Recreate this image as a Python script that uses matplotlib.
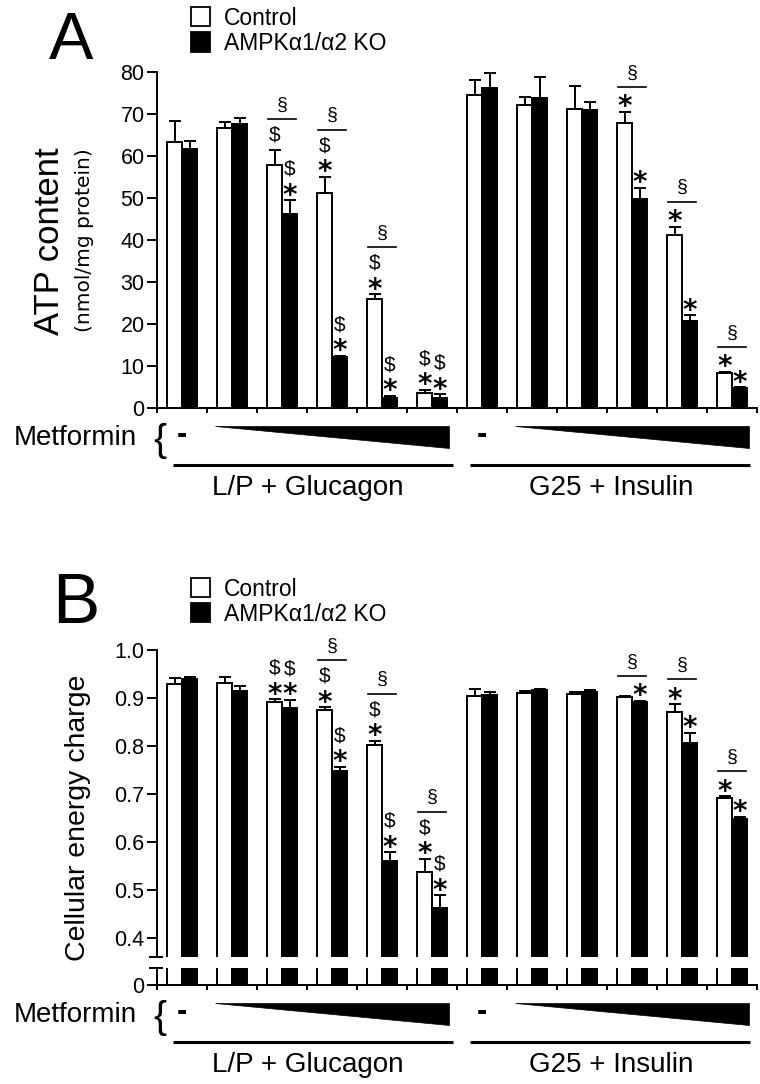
import matplotlib
matplotlib.use('Agg')
import matplotlib.pyplot as plt
from matplotlib.patches import Rectangle, Polygon
from matplotlib.transforms import offset_copy
import numpy as np

plt.rcParams['font.family'] = ['Liberation Sans', 'DejaVu Sans']

# ---- data ----
groups = np.arange(12)

# A: ATP content (nmol/mg protein)
atp_ctrl = [63.3, 66.6, 57.9, 51.3, 25.9, 3.5, 74.5, 72.1, 71.3, 67.8, 41.3, 8.3]
atp_ctrl_err = [5.1, 1.4, 3.5, 3.8, 1.2, 0.8, 3.6, 1.9, 5.4, 2.7, 1.9, 0.3]
atp_ko = [61.7, 67.6, 46.1, 12.1, 2.5, 2.5, 76.1, 73.8, 71.0, 49.7, 20.8, 4.7]
atp_ko_err = [1.9, 1.4, 3.4, 0.3, 0.4, 0.8, 3.6, 4.9, 1.9, 2.8, 1.3, 0.3]
atp_ctrl_marks = ['', '', '$', '*$', '*$', '*$', '', '', '', '*', '*', '*']
atp_ko_marks = ['', '', '*$', '*$', '*$', '*$', '', '', '', '*', '*', '*']
atp_sect = [2, 3, 4, 9, 10, 11]

# B: cellular energy charge
ec_ctrl = [0.929, 0.932, 0.891, 0.874, 0.802, 0.538, 0.905, 0.911, 0.909, 0.902, 0.870, 0.692]
ec_ctrl_err = [0.012, 0.012, 0.007, 0.007, 0.009, 0.027, 0.013, 0.003, 0.003, 0.003, 0.017, 0.003]
ec_ko = [0.939, 0.915, 0.880, 0.747, 0.560, 0.462, 0.906, 0.917, 0.913, 0.891, 0.807, 0.647]
ec_ko_err = [0.005, 0.009, 0.016, 0.010, 0.019, 0.027, 0.007, 0.002, 0.003, 0.003, 0.021, 0.006]
ec_ctrl_marks = ['', '', '*$', '*$', '*$', '*$', '', '', '', '', '*', '*']
ec_ko_marks = ['', '', '*$', '*$', '*$', '*$', '', '', '', '*', '*', '*']
ec_sect = [3, 4, 5, 9, 10, 11]

legend_labels = ['Control', 'AMPK\u03b11/\u03b12 KO']
conditions = ['L/P + Glucagon', 'G25 + Insulin']

W, H = 760, 1084
fig = plt.figure(figsize=(W / 100, H / 100), dpi=100)


def fx(px):
    return px / W


def fy(py):
    return 1 - py / H


bw = 0.3
LW = 1.4


def style_axis(ax):
    ax.spines['top'].set_visible(False)
    ax.spines['right'].set_visible(False)
    for s in ('left', 'bottom'):
        ax.spines[s].set_linewidth(LW)
    ax.set_xlim(-0.5, 11.5)
    ax.tick_params(axis='y', direction='out', length=7, width=LW, labelsize=15.5, pad=2)
    ax.tick_params(axis='x', direction='out', length=3.8, width=LW, labelbottom=False)
    ax.set_xticks(np.arange(-0.5, 12, 1.0))


def draw_bars(ax, ctrl, ctrl_err, ko, ko_err, err=True):
    ax.bar(groups - bw / 2, ctrl, bw, color='white', edgecolor='black', linewidth=LW, zorder=2)
    ax.bar(groups + bw / 2, ko, bw, color='black', edgecolor='black', linewidth=LW, zorder=2)
    if err:
        for off, m, e in ((-bw / 2, ctrl, ctrl_err), (bw / 2, ko, ko_err)):
            ax.errorbar(groups + off, m, yerr=[np.zeros(12), e], fmt='none', ecolor='black',
                        elinewidth=LW, capsize=4, capthick=LW, zorder=3)


STAR_FS = 20
STAR_EM = STAR_FS * 100 / 72
stack_h = {'': 0, '*': 17, '$': 23, '*$': 39}


def draw_marks(ax, ctrl, ctrl_err, ko, ko_err, cmarks, kmarks, sect):
    tops = {}
    for off, m, e, marks in ((-bw / 2, ctrl, ctrl_err, cmarks), (bw / 2, ko, ko_err, kmarks)):
        for g in groups:
            x = g + off
            top = m[g] + e[g]
            mk = marks[g]
            tops[(g, off)] = ax.transData.transform((x, top))[1] + stack_h[mk]
            if '*' in mk:
                tr = offset_copy(ax.transData, fig=fig, x=0, y=12 - 0.56 * STAR_EM, units='dots')
                ax.text(x, top, '*', transform=tr, ha='center', va='baseline',
                        fontsize=STAR_FS, fontweight='bold', family='DejaVu Sans')
            if '$' in mk:
                dy = 31 if '*' in mk else 15
                tr = offset_copy(ax.transData, fig=fig, x=0, y=dy, units='dots')
                ax.text(x, top, '$', transform=tr, ha='center', va='center', fontsize=15)
    inv = ax.transData.inverted()
    for g in sect:
        ypix = max(tops[(g, -bw / 2)], tops[(g, bw / 2)]) + 8
        xpix = ax.transData.transform((g, 0))[0]
        yline = inv.transform((xpix, ypix))[1]
        ax.plot([g - 0.28, g + 0.28], [yline, yline], color='black', lw=1.2, clip_on=False)
        tr = offset_copy(ax.transData, fig=fig, x=0, y=14, units='dots')
        ax.text(g, yline, '\u00a7', transform=tr, ha='center', va='center', fontsize=14)


def draw_bottom(axis_py):
    axb = fig.add_axes([fx(157), fy(axis_py + 95), 600 / W, 95 / H])
    axb.set_xlim(-0.5, 11.5)
    axb.set_ylim(-95, 0)
    axb.axis('off')
    axb.text(-0.9, -30, 'Metformin', ha='right', va='center', fontsize=20)
    axb.text(-0.44, -33, '{', ha='center', va='center', fontsize=28)
    for start, (l0, l1), lab_x, lab in ((0, (-0.18, 5.42), 2.52, conditions[0]),
                                        (6, (5.76, 11.36), 8.58, conditions[1])):
        axb.text(start, -27, '-', ha='center', va='center', fontsize=22, fontweight='bold')
        axb.add_patch(Polygon([(start + 0.66, -18), (start + 5.34, -18), (start + 5.34, -40)],
                              closed=True, facecolor='black', edgecolor='black', lw=0.5))
        axb.plot([l0, l1], [-57, -57], color='black', lw=2.2, solid_capstyle='butt')
        axb.text(lab_x, -80, lab, ha='center', va='center', fontsize=20)


def draw_legend(y1, y2):
    for yc, fc, lab in ((y1, 'white', legend_labels[0]), (y2, 'black', legend_labels[1])):
        fig.patches.append(Rectangle((fx(191), fy(yc + 9.5)), 19 / W, 19 / H, transform=fig.transFigure,
                                     facecolor=fc, edgecolor='black', lw=1.3))
        fig.text(fx(224), fy(yc + 2), lab, ha='left', va='center', fontsize=16.5)


# ---------------- Panel A ----------------
axA = fig.add_axes([fx(157), fy(408), 600 / W, (408 - 72) / H])
style_axis(axA)
axA.set_ylim(0, 80)
axA.set_yticks(range(0, 81, 10))
draw_bars(axA, atp_ctrl, atp_ctrl_err, atp_ko, atp_ko_err)
draw_marks(axA, atp_ctrl, atp_ctrl_err, atp_ko, atp_ko_err, atp_ctrl_marks, atp_ko_marks, atp_sect)
draw_bottom(408)
draw_legend(16.5, 42)
fig.text(fx(49), fy(59), 'A', fontsize=48, ha='left', va='baseline')
fig.text(fx(50), fy(241), 'ATP content', rotation=90, ha='center', va='center', fontsize=25)
fig.text(fx(85), fy(240), '(nmol/mg protein)', rotation=90, ha='center', va='center',
         fontsize=14.5, family='DejaVu Sans')

# ---------------- Panel B ----------------
B_TOP, B_BRK1, B_BRK2, B_AX = 650, 957, 968, 985
ppu = (938 - 650) / 0.6
axB = fig.add_axes([fx(157), fy(B_BRK1), 600 / W, (B_BRK1 - B_TOP) / H])
style_axis(axB)
axB.set_ylim(1.0 - (B_BRK1 - B_TOP) / ppu, 1.0)
axB.set_yticks([0.4, 0.5, 0.6, 0.7, 0.8, 0.9, 1.0])
axB.set_yticklabels(['%.1f' % v for v in [0.4, 0.5, 0.6, 0.7, 0.8, 0.9, 1.0]])
axB.spines['bottom'].set_visible(False)
axB.tick_params(axis='x', bottom=False)
draw_bars(axB, ec_ctrl, ec_ctrl_err, ec_ko, ec_ko_err)
draw_marks(axB, ec_ctrl, ec_ctrl_err, ec_ko, ec_ko_err, ec_ctrl_marks, ec_ko_marks, ec_sect)

axB0 = fig.add_axes([fx(157), fy(B_AX), 600 / W, (B_AX - B_BRK2) / H])
style_axis(axB0)
axB0.set_ylim(0, (B_AX - B_BRK2) / ppu)
axB0.set_yticks([0])
axB0.set_yticklabels(['0'])
draw_bars(axB0, ec_ctrl, ec_ctrl_err, ec_ko, ec_ko_err, err=False)

# axis break marks
for a, yy in ((axB, 0), (axB0, 1)):
    a.plot([-0.012, 0.008], [yy, yy], transform=a.transAxes, color='black', lw=LW, clip_on=False)

draw_bottom(B_AX)
draw_legend(587.5, 612.5)
fig.text(fx(52), fy(623), 'B', fontsize=51, ha='left', va='baseline')
fig.text(fx(78), fy(818), 'Cellular energy charge', rotation=90, ha='center', va='center', fontsize=20.5)

fig.savefig('out.png', dpi=100)
